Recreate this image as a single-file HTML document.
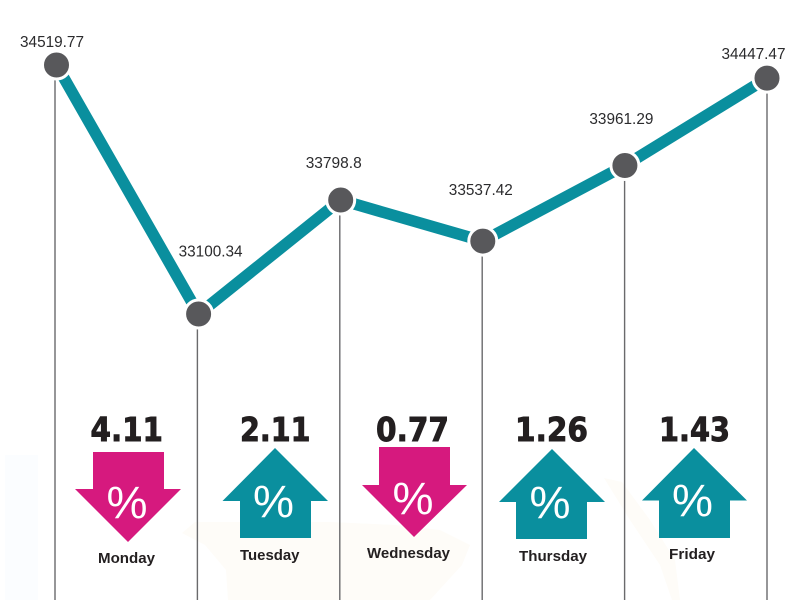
<!DOCTYPE html>
<html>
<head>
<meta charset="utf-8">
<title>Weekly index chart</title>
<style>
html,body{margin:0;padding:0;background:#fff;}
svg{display:block;font-family:"Liberation Sans",sans-serif;}
.num{font-family:"DejaVu Sans",sans-serif;font-weight:bold;font-size:32.5px;fill:#231f20;stroke:#231f20;stroke-width:0.9px;}
.pct{font-size:45px;fill:#ffffff;text-anchor:middle;}
.day{font-weight:bold;font-size:15px;fill:#231f20;}
</style>
</head>
<body>
<svg id="chart" width="800" height="600" viewBox="0 0 800 600" xmlns="http://www.w3.org/2000/svg">
  <rect width="800" height="600" fill="#ffffff"/>
  <rect x="5" y="455" width="33" height="145" fill="#fbfdff"/>
  <path d="M182 533 L195 522 L330 522 L395 525 L440 530 L470 545 L462 565 L430 600 L228 600 L226 570 L205 545 Z" fill="#fefcf8"/>
  <path d="M604 478 L622 482 L650 520 L675 560 L680 600 L672 600 L660 565 L630 520 Z" fill="#fefcf8"/>
  <g id="rules"></g>
  <path id="trend" fill="none" stroke="#0a8f9e" stroke-width="11.5" stroke-linejoin="miter"/>
  <g id="points"></g>
  <g id="value-labels"></g>

  <g>
    <text class="num" x="90.5" y="441" textLength="72.5" lengthAdjust="spacingAndGlyphs">4.11</text>
    <polygon points="93,452 164,452 164,489 181,489 128,542 75,489 93,489" fill="#d6197e"/>
    <text class="pct" x="127" y="518" textLength="41" lengthAdjust="spacingAndGlyphs">%</text>
    <text class="day" x="98" y="563" textLength="57" lengthAdjust="spacingAndGlyphs">Monday</text>
  </g>
  <g>
    <text class="num" x="240" y="441" textLength="70.5" lengthAdjust="spacingAndGlyphs">2.11</text>
    <polygon points="275,448 328,501 311,501 311,538 240,538 240,501 222.5,501" fill="#0a8f9e"/>
    <text class="pct" x="273.5" y="517" textLength="41" lengthAdjust="spacingAndGlyphs">%</text>
    <text class="day" x="240" y="560" textLength="59.5" lengthAdjust="spacingAndGlyphs">Tuesday</text>
  </g>
  <g>
    <text class="num" x="376" y="441" textLength="73" lengthAdjust="spacingAndGlyphs">0.77</text>
    <polygon points="379,447 450,447 450,485 467,485 414,537 362,485 379,485" fill="#d6197e"/>
    <text class="pct" x="413" y="514" textLength="41" lengthAdjust="spacingAndGlyphs">%</text>
    <text class="day" x="367" y="558" textLength="83" lengthAdjust="spacingAndGlyphs">Wednesday</text>
  </g>
  <g>
    <text class="num" x="515" y="441" textLength="73" lengthAdjust="spacingAndGlyphs">1.26</text>
    <polygon points="552,449 605,502 587,502 587,539 516,539 516,502 499,502" fill="#0a8f9e"/>
    <text class="pct" x="550" y="518" textLength="41" lengthAdjust="spacingAndGlyphs">%</text>
    <text class="day" x="519" y="561" textLength="68" lengthAdjust="spacingAndGlyphs">Thursday</text>
  </g>
  <g>
    <text class="num" x="659" y="441" textLength="71" lengthAdjust="spacingAndGlyphs">1.43</text>
    <polygon points="694,448 747,500.5 730,500.5 730,538 659,538 659,500.5 642,500.5" fill="#0a8f9e"/>
    <text class="pct" x="692.5" y="516" textLength="41" lengthAdjust="spacingAndGlyphs">%</text>
    <text class="day" x="669" y="559" textLength="46" lengthAdjust="spacingAndGlyphs">Friday</text>
  </g>
</svg>
<script>
// Plotted heights (the source graphic is not perfectly to scale).
const values = [34519.77, 33100.34, 33750, 33516, 33947, 34445];
// Index levels as printed on the chart.
const printedValues = ['34519.77', '33100.34', '33798.8', '33537.42', '33961.29', '34447.47'];

// Layout: label nudges relative to each point, kept apart from the data.
const labelNudgeX = [-4.5, 12, -7, -2, -3.5, -13.5];
const labelNudgeY = [-18, -57.5, -32, -46, -41.5, -19];

const NS = 'http://www.w3.org/2000/svg';
function xScale(i) { return 56.5 + 142.1 * i; }
function ruleX(i) { return 55 + 142.4 * i; }
function yScale(v) { return 65 + (34519.77 - v) * 0.17542; }

const rules = document.getElementById('rules');
const points = document.getElementById('points');
const labels = document.getElementById('value-labels');

document.getElementById('trend').setAttribute('d',
  values.map(function (v, i) { return (i ? 'L' : 'M') + xScale(i) + ' ' + yScale(v); }).join(' '));

values.forEach(function (v, i) {
  const x = xScale(i);
  const y = yScale(v);

  const rule = document.createElementNS(NS, 'line');
  
  
  rule.setAttribute('x1', ruleX(i));
  rule.setAttribute('x2', ruleX(i));
  rule.setAttribute('y1', y + 15);
  rule.setAttribute('y2', 600);
  rule.setAttribute('stroke', '#6a6a6c');
  rule.setAttribute('stroke-width', '1.4');
  rules.appendChild(rule);

  const dot = document.createElementNS(NS, 'circle');
  
  
  dot.setAttribute('cx', x);
  dot.setAttribute('cy', y);
  dot.setAttribute('r', '14');
  dot.setAttribute('fill', '#58585b');
  dot.setAttribute('stroke', '#ffffff');
  dot.setAttribute('stroke-width', '3');
  points.appendChild(dot);

  const label = document.createElementNS(NS, 'text');
  
  
  label.setAttribute('x', x + labelNudgeX[i]);
  label.setAttribute('y', y + labelNudgeY[i]);
  label.setAttribute('text-anchor', 'middle');
  label.setAttribute('font-size', '16');
  label.setAttribute('textLength', printedValues[i].length * 8);
  label.setAttribute('lengthAdjust', 'spacingAndGlyphs');
  label.setAttribute('fill', '#2b2b2d');
  label.textContent = printedValues[i];
  labels.appendChild(label);
});
</script>
</body>
</html>
